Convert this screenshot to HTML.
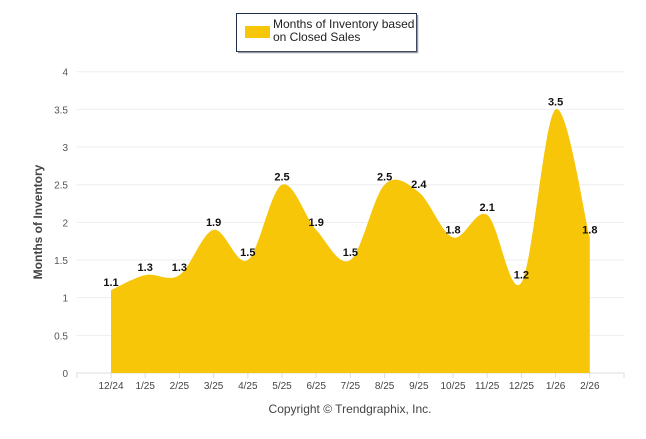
<!DOCTYPE html>
<html><head><meta charset="utf-8"><style>
body{margin:0;background:#fff;font-family:"Liberation Sans",Arial,sans-serif}
svg text{font-family:"Liberation Sans",Arial,sans-serif}
</style></head><body>
<svg id="c" width="646" height="434" xmlns="http://www.w3.org/2000/svg">
<g>
<rect x="236.5" y="13.5" width="180" height="38" fill="#fff" stroke="#1f2d4d" stroke-width="1"/>
<line x1="238" y1="52.5" x2="418" y2="52.5" stroke="#999" stroke-width="1.5"/>
<line x1="417.5" y1="15" x2="417.5" y2="53" stroke="#999" stroke-width="1.5"/>
<rect x="245" y="26" width="25" height="12" fill="#F7C608"/>
<text x="273" y="28" font-size="12" fill="#222">Months of Inventory based</text>
<text x="273" y="41" font-size="12" fill="#222">on Closed Sales</text>
</g>
<g id="grid"></g>
<path id="area" fill="#F7C608"/>
<g id="labels"></g>
<text transform="translate(42,222) rotate(-90)" text-anchor="middle" font-size="12" font-weight="bold" fill="#444">Months of Inventory</text>
<text x="350" y="413" text-anchor="middle" font-size="12" fill="#444">Copyright © Trendgraphix, Inc.</text>
</svg>
<script>
const categories=["12/24","1/25","2/25","3/25","4/25","5/25","6/25","7/25","8/25","9/25","10/25","11/25","12/25","1/26","2/26"];
const values=[1.1,1.3,1.3,1.9,1.5,2.5,1.9,1.5,2.5,2.4,1.8,2.1,1.2,3.5,1.8];
const yTicks=[0,0.5,1,1.5,2,2.5,3,3.5,4];
const NS="http://www.w3.org/2000/svg";
const L=76.8,R=624,Y0=373,Y4=71.7;
const step=(R-L)/(categories.length+1);
const x=i=>L+step*(i+1);
const y=v=>Y0-(Y0-Y4)*v/4;
function mk(t,a,p){const e=document.createElementNS(NS,t);for(const k in a)e.setAttribute(k,a[k]);p.appendChild(e);return e;}
const g=document.getElementById('grid');
yTicks.forEach(v=>{
 const ln=mk('line',{x1:L,x2:R,y1:y(v),y2:y(v),stroke:v===0?'#ddd':'#eee','stroke-width':1},g);
 
 
 const t=mk('text',{x:68,y:y(v)+4,'text-anchor':'end','font-size':10,fill:'#555'},g);
 t.textContent=String(v);
 
 
});
mk('line',{x1:L,x2:L,y1:Y0,y2:Y0+5,stroke:'#ddd'},g);
mk('line',{x1:R,x2:R,y1:Y0,y2:Y0+5,stroke:'#ddd'},g);
categories.forEach((c,i)=>{
 mk('line',{x1:x(i),x2:x(i),y1:Y0,y2:Y0+5,stroke:'#ddd'},g);
 const t=mk('text',{x:x(i),y:Y0+16,'text-anchor':'middle','font-size':10,fill:'#444'},g);
 t.textContent=c;
 
 
});
const pts=values.map((v,i)=>[x(i),y(v)]);
let d=`M${pts[0][0]},${Y0} L${pts[0][0]},${pts[0][1]}`;
for(let i=0;i<pts.length-1;i++){
 const p0=pts[Math.max(0,i-1)],p1=pts[i],p2=pts[i+1],p3=pts[Math.min(pts.length-1,i+2)];
 const k=1/6;
 d+=` C${p1[0]+(p2[0]-p0[0])*k},${p1[1]+(p2[1]-p0[1])*k} ${p2[0]-(p3[0]-p1[0])*k},${p2[1]-(p3[1]-p1[1])*k} ${p2[0]},${p2[1]}`;
}
d+=` L${pts[pts.length-1][0]},${Y0} Z`;
document.getElementById('area').setAttribute('d',d);
const lg=document.getElementById('labels');
values.forEach((v,i)=>{
 const t=mk('text',{x:x(i),y:y(v)-4,'text-anchor':'middle','font-size':11,'font-weight':'bold',fill:'#111'},lg);
 t.textContent=v.toFixed(1);
 
 
});
</script>
</body></html>
